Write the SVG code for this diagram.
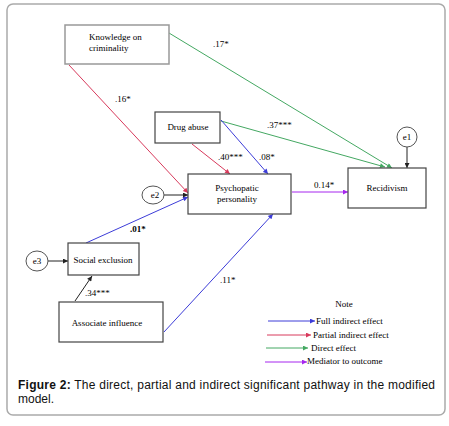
<svg xmlns="http://www.w3.org/2000/svg" width="449" height="426" viewBox="0 0 449 426">
<style>
.box{fill:#fff;stroke:#444;stroke-width:1.2}
.gbox{fill:#fff;stroke:#999;stroke-width:1.5}
.t{font-size:9px;fill:#000}
.ell{fill:#fff;stroke:#555;stroke-width:1}
.c{fill:none;stroke-width:1}
.blue{stroke:#3c3cd8}
.red{stroke:#d83a5c}
.green{stroke:#44a862}
.purple{stroke:#a626ee}
.black{stroke:#222}
.cap{font-size:12px;fill:#111}
</style>
<defs>
<marker id="ab" viewBox="0 0 10 10" refX="10" refY="5" markerWidth="7" markerHeight="5" orient="auto" markerUnits="userSpaceOnUse"><path d="M0,0L10,5L0,10z" fill="#3c3cd8"/></marker>
<marker id="ar" viewBox="0 0 10 10" refX="10" refY="5" markerWidth="7" markerHeight="5" orient="auto" markerUnits="userSpaceOnUse"><path d="M0,0L10,5L0,10z" fill="#d83a5c"/></marker>
<marker id="ag" viewBox="0 0 10 10" refX="10" refY="5" markerWidth="7" markerHeight="5" orient="auto" markerUnits="userSpaceOnUse"><path d="M0,0L10,5L0,10z" fill="#44a862"/></marker>
<marker id="ap" viewBox="0 0 10 10" refX="10" refY="5" markerWidth="7" markerHeight="5" orient="auto" markerUnits="userSpaceOnUse"><path d="M0,0L10,5L0,10z" fill="#a626ee"/></marker>
<marker id="ak" viewBox="0 0 10 10" refX="10" refY="5" markerWidth="7" markerHeight="5" orient="auto" markerUnits="userSpaceOnUse"><path d="M0,0L10,5L0,10z" fill="#222"/></marker>
</defs>
<rect x="0" y="0" width="449" height="426" fill="#fff"/>
<rect x="7" y="4" width="438" height="411" rx="6" fill="#fff" stroke="#aaa" stroke-width="1.5"/>

<g font-family="Liberation Serif, Times New Roman, serif">
<g id="connectors">
<line class="c green" x1="169" y1="33" x2="392" y2="168" marker-end="url(#ag)"/>
<line class="c green" x1="221" y1="121" x2="385" y2="167" marker-end="url(#ag)"/>
<line class="c red" x1="69" y1="65" x2="188" y2="193" marker-end="url(#ar)"/>
<line class="c red" x1="192" y1="144" x2="230" y2="174" marker-end="url(#ar)"/>
<line class="c blue" x1="221" y1="120" x2="268" y2="174" marker-end="url(#ab)"/>
<line class="c purple" x1="292" y1="192" x2="348" y2="192" marker-end="url(#ap)"/>
<line class="c blue" x1="86" y1="243" x2="188" y2="197" marker-end="url(#ab)"/>
<line class="c blue" x1="164" y1="332" x2="273" y2="214" marker-end="url(#ab)"/>
<line class="c black" x1="75" y1="301" x2="92" y2="276" marker-end="url(#ak)"/>
<line class="c black" x1="407" y1="147" x2="407" y2="168" marker-end="url(#ak)"/>
<line class="c black" x1="164" y1="195" x2="188" y2="195" marker-end="url(#ak)" stroke-width="1.3"/>
<line class="c black" x1="48" y1="261" x2="68" y2="261" marker-end="url(#ak)"/>
<text class="t" x="213" y="47">.17*</text>
<text class="t" x="267" y="128">.37***</text>
<text class="t" x="115" y="102">.16*</text>
<text class="t" x="218" y="160">.40***</text>
<text class="t" x="259" y="160">.08*</text>
<text class="t" x="314" y="188">0.14*</text>
<text class="t" x="130" y="232" font-weight="bold">.01*</text>
<text class="t" x="220" y="283">.11*</text>
<text class="t" x="85" y="296">.34***</text>
</g>

<g id="knowledge"><rect class="gbox" x="65" y="25" width="104" height="39"/><text class="t" x="89" y="40">Knowledge on</text><text class="t" x="89" y="51">criminality</text></g>
<g id="drug"><rect class="box" x="155" y="112" width="65" height="31"/><text class="t" x="188" y="130" text-anchor="middle">Drug abuse</text></g>
<g id="psycho"><rect class="box" x="188" y="174" width="103" height="40" stroke="#666"/><text class="t" x="237" y="191" text-anchor="middle">Psychopatic</text><text class="t" x="237" y="202" text-anchor="middle">personality</text></g>
<g id="recid"><rect class="box" x="348" y="168" width="78" height="40"/><text class="t" x="387" y="191" text-anchor="middle">Recidivism</text></g>
<g id="e1"><ellipse class="ell" cx="407" cy="137" rx="10" ry="10"/><text class="t" x="407" y="140" text-anchor="middle">e1</text></g>
<g id="e2"><ellipse class="ell" cx="153" cy="195" rx="11" ry="9"/><text class="t" x="155" y="198" text-anchor="middle">e2</text></g>
<g id="e3"><ellipse class="ell" cx="37" cy="261" rx="11" ry="10"/><text class="t" x="37" y="264" text-anchor="middle">e3</text></g>
<g id="social"><rect class="box" x="68" y="243" width="71" height="32"/><text class="t" x="103" y="263" text-anchor="middle">Social exclusion</text></g>
<g id="associate"><rect class="box" x="59" y="302" width="104" height="40" stroke="#666"/><text class="t" x="107" y="326" text-anchor="middle">Associate influence</text></g>

<g id="legend">
<text class="t" x="344" y="307" text-anchor="middle">Note</text>
<line class="c blue" x1="268" y1="321" x2="315" y2="321" marker-end="url(#ab)"/>
<text class="t" x="316" y="324">Full indirect effect</text>
<line class="c red" x1="267" y1="335" x2="311" y2="335" marker-end="url(#ar)"/>
<text class="t" x="313" y="338">Partial indirect effect</text>
<line class="c green" x1="266" y1="348" x2="308" y2="348" marker-end="url(#ag)"/>
<text class="t" x="311" y="351">Direct effect</text>
<line class="c purple" x1="265" y1="362" x2="307" y2="362" marker-end="url(#ap)"/>
<text class="t" x="307" y="364">Mediator to outcome</text>
</g>
</g>

<g id="caption" font-family="Liberation Sans, Arial, sans-serif">
<text class="cap" x="18" y="389" textLength="417" lengthAdjust="spacing"><tspan font-weight="bold">Figure 2:</tspan> The direct, partial and indirect significant pathway in the modified</text>
<text class="cap" x="18" y="403">model.</text>
</g>
</svg>
